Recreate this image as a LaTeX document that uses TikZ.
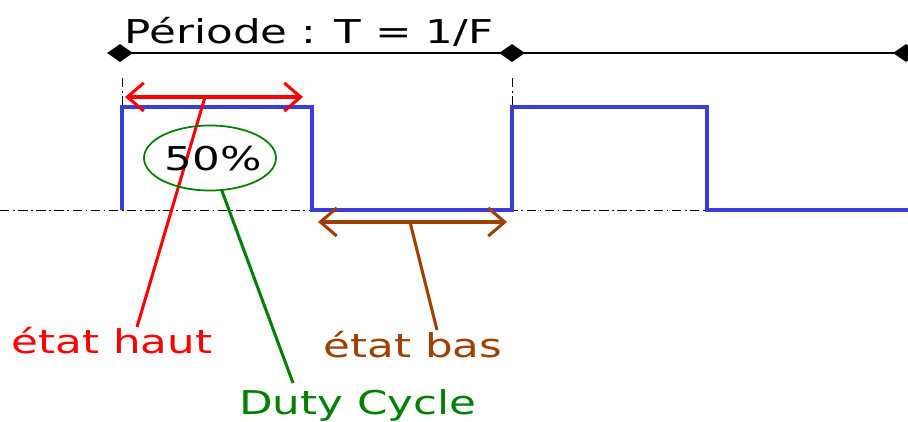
\documentclass[tikz,border=0pt]{standalone}
\usepackage{fontspec}
\setmainfont[FakeStretch=1.33]{DejaVu Sans}
\usetikzlibrary{arrows.meta,shapes.geometric}
\definecolor{sigblue}{RGB}{60,60,215}
\definecolor{hautred}{RGB}{255,0,0}
\definecolor{dutygreen}{RGB}{0,128,0}
\definecolor{basbrown}{RGB}{160,64,0}
\tikzset{
  px/.style={x=0.03cm,y=-0.03cm},
  lbl/.style={font=\fontsize{28}{30}\selectfont, inner sep=0pt},
  dia/.style={diamond, fill=black, draw=none, minimum width=26*0.03cm, minimum height=18*0.03cm, inner sep=0pt, aspect=1.4},
  guide/.style={black, line width=0.6pt, dash pattern=on 8pt off 3pt on 1.5pt off 3pt},
  barb/.style={{Straight Barb[length=14pt,width=24pt]}-{Straight Barb[length=14pt,width=24pt]}},
}
\begin{document}
\begin{tikzpicture}[px]
\useasboundingbox (0,0) rectangle (908,421);
% baseline
\coordinate (b0) at (0,210);
\coordinate (b1) at (908,210);
\draw[guide] (b0) -- (b1);
% period markers
\node[dia] (d1) at (120,53) {};
\node[dia] (d2) at (512,53) {};
\node[dia] (d3) at (906,53) {};
\draw[black, line width=2.4pt] (d1.center) -- (d3.center);
\node[lbl, anchor=base] (per) at (309,43) {Période : T = 1/F};
% vertical guides
\coordinate (g1a) at (122,78); \coordinate (g1b) at (122,106);
\coordinate (g2a) at (512,78); \coordinate (g2b) at (512,106);
\draw[guide, line width=0.8pt] (g1a) -- (g1b);
\draw[guide, line width=0.8pt] (g2a) -- (g2b);
% signal
\draw[sigblue, line width=3.4pt, line join=miter]
  (122,210) -- (122,107) -- (312,107) -- (312,210) -- (512,210) -- (512,107)
  -- (707,107) -- (707,210) -- (908,210);
% etat haut
\coordinate (h1) at (125,97); \coordinate (h2) at (303,97);
\draw[hautred, line width=2.6pt, barb] (h1) -- (h2);
\node[lbl, text=hautred, anchor=base] (haut) at (112,353) {état haut};
\coordinate (hm) at (205,97);
\coordinate (ht) at (137,327);
\draw[hautred, line width=2.6pt] (hm) -- (ht);
% duty cycle ellipse
\node[ellipse, draw=dutygreen, line width=1.5pt, minimum width=132*0.03cm, minimum height=65*0.03cm, inner sep=0pt] (pct) at (210,158) {};
\node[lbl] (pcttxt) at (213,159) {50\%};
\coordinate (dt) at (293,383);
\draw[dutygreen, line width=2.6pt] (pct.-70) -- (dt);
\node[lbl, text=dutygreen, anchor=base] (duty) at (358,414) {Duty Cycle};
% etat bas
\coordinate (l1) at (318,222); \coordinate (l2) at (507,222);
\draw[basbrown, line width=2.6pt, barb] (l1) -- (l2);
\coordinate (lm) at (410,222);
\coordinate (lt) at (437,330);
\draw[basbrown, line width=2.6pt] (lm) -- (lt);
\node[lbl, text=basbrown, anchor=base] (bas) at (413,357) {état bas};
\end{tikzpicture}
\end{document}
